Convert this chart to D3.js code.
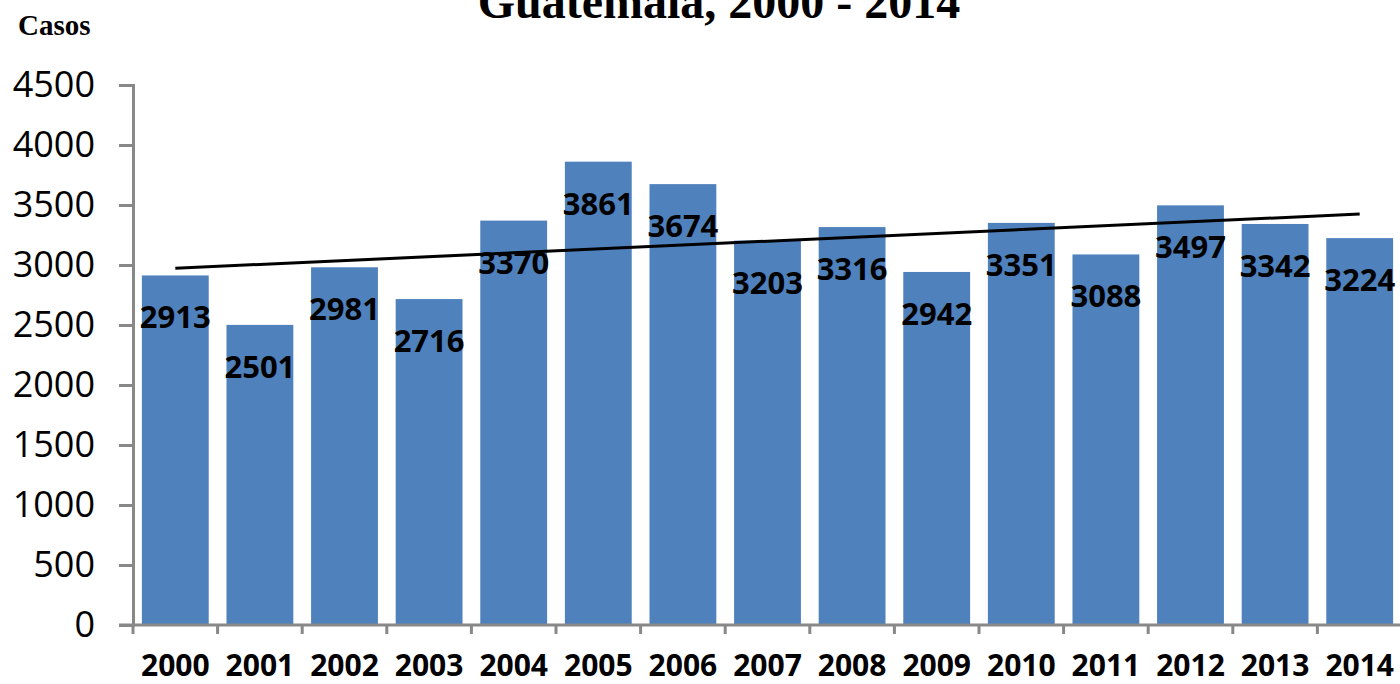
<!DOCTYPE html>
<html>
<head>
<meta charset="utf-8">
<script src="https://cdn.jsdelivr.net/npm/d3@7"></script>
<style>
  body { margin: 0; background: #fff; }
  svg { display: block; }
</style>
</head>
<body>
<div id="chart"></div>
<script>
// data
var years = ["2000", "2001", "2002", "2003", "2004", "2005", "2006", "2007",
             "2008", "2009", "2010", "2011", "2012", "2013", "2014"];
var casos = [2913, 2501, 2981, 2716, 3370, 3861, 3674, 3203,
             3316, 2942, 3351, 3088, 3497, 3342, 3224];
var yTicks = [0, 500, 1000, 1500, 2000, 2500, 3000, 3500, 4000, 4500];
var titleText = "Guatemala, 2000 - 2014";
var yLabelText = "Casos";

var svgWidth = 1400;
var svgHeight = 684;

// plot area (the right edge runs slightly past the picture, like the original)
var chartMargin = { top: 85, right: -2, bottom: 59, left: 133 };
var chartWidth = svgWidth - chartMargin.left - chartMargin.right;
var chartHeight = svgHeight - chartMargin.top - chartMargin.bottom;

var svg = d3.select("#chart")
  .append("svg")
    .attr("width", svgWidth)
    .attr("height", svgHeight);

var chart = svg.append("g")
  .attr("transform", `translate(${chartMargin.left}, ${chartMargin.top})`);

var x = d3.scaleBand()
  .domain(years)
  .range([0, chartWidth])
  .paddingInner(0.21)
  .paddingOuter(0.105);

var y = d3.scaleLinear()
  .domain([0, 4500])
  .range([chartHeight, 0]);

// bars
chart.selectAll(".bar")
  .data(years)
  .enter().append("rect")
    .attr("class", "bar")
    .attr("x", function(d) { return x(d); })
    .attr("width", x.bandwidth())
    .attr("y", function(d, i) { return y(casos[i]); })
    .attr("height", function(d, i) { return chartHeight - y(casos[i]); })
    .attr("fill", "#4F81BD");

// linear trend line (least squares over the series)
var n = casos.length;
var meanX = (n - 1) / 2;
var meanY = d3.mean(casos);
var sxy = d3.sum(casos, function(v, i) { return (i - meanX) * (v - meanY); });
var sxx = d3.sum(casos, function(v, i) { return (i - meanX) * (i - meanX); });
var slope = sxy / sxx;
var intercept = meanY - slope * meanX;

chart.append("line")
  .attr("x1", x(years[0]) + x.bandwidth() / 2)
  .attr("y1", y(intercept))
  .attr("x2", x(years[n - 1]) + x.bandwidth() / 2)
  .attr("y2", y(intercept + slope * (n - 1)))
  .attr("stroke", "#000")
  .attr("stroke-width", 3);

// value labels
chart.selectAll(".val")
  .data(years)
  .enter().append("text")
    .attr("class", "val")
    .attr("x", function(d) { return x(d) + x.bandwidth() / 2; })
    .attr("y", function(d, i) { return y(casos[i]) + 53; })
    .attr("text-anchor", "middle")
    .style("font-family", "'Open Sans', sans-serif")
    .style("font-weight", "bold")
    .style("font-size", "31px")
    .attr("fill", "#000")
    .text(function(d, i) { return casos[i]; });

// y axis
var yAxis = d3.axisLeft(y)
  .tickValues(yTicks)
  .tickFormat(d3.format("d"))
  .tickSize(14)
  .tickPadding(24);

var yG = chart.append("g")
  .attr("class", "y axis")
  .call(yAxis);

// x axis, ticks at category boundaries
var boundaries = years.map(function(d) { return x(d) - x.step() * x.paddingInner() / 2; });
var xG = chart.append("g")
  .attr("class", "x axis")
  .attr("transform", `translate(0, ${chartHeight})`);

xG.append("line")
  .attr("x1", -14)
  .attr("x2", chartWidth)
  .attr("stroke", "#888")
  .attr("stroke-width", 3);

xG.selectAll(".xtick")
  .data(boundaries)
  .enter().append("line")
    .attr("class", "xtick")
    .attr("x1", function(d) { return d; })
    .attr("x2", function(d) { return d; })
    .attr("y1", 0)
    .attr("y2", 9)
    .attr("stroke", "#888")
    .attr("stroke-width", 3);

xG.selectAll(".xlab")
  .data(years)
  .enter().append("text")
    .attr("class", "xlab")
    .attr("x", function(d) { return x(d) + x.bandwidth() / 2; })
    .attr("y", 51)
    .attr("text-anchor", "middle")
    .style("font-family", "'Open Sans', sans-serif")
    .style("font-weight", "bold")
    .style("font-size", "30px")
    .attr("fill", "#000")
    .text(function(d) { return d; });

yG.select(".domain").attr("stroke", "#888").attr("stroke-width", 3);
yG.selectAll(".tick line").attr("stroke", "#888").attr("stroke-width", 3);
yG.selectAll(".tick text")
  .style("font-family", "'Open Sans', sans-serif")
  .style("font-size", "36px")
  .attr("fill", "#000");

// title (cut off at the top, as in the original) and y label
svg.append("text")
  .attr("x", 719)
  .attr("y", 18)
  .attr("text-anchor", "middle")
  .style("font-family", "'Liberation Serif', 'Times New Roman', serif")
  .style("font-weight", "bold")
  .style("font-size", "48px")
  .text(titleText);

svg.append("text")
  .attr("x", 18)
  .attr("y", 35)
  .style("font-family", "'Liberation Serif', 'Times New Roman', serif")
  .style("font-weight", "bold")
  .style("font-size", "29px")
  .text(yLabelText);
</script>
</body>
</html>
